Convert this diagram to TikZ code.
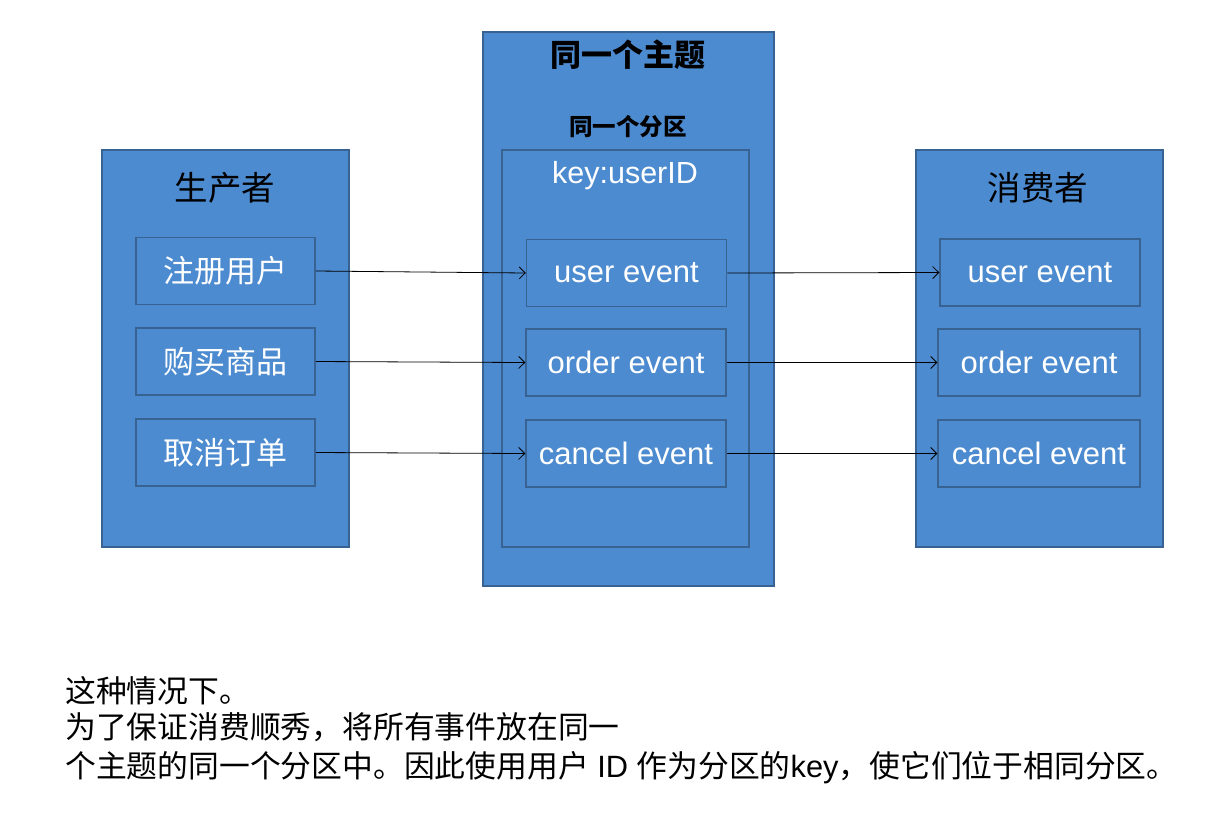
\documentclass[tikz,border=0pt]{standalone}
\usepackage{fontspec}
\setmainfont{Liberation Sans}
\newfontfamily\cjk{Noto Sans CJK SC}
\usetikzlibrary{arrows.meta}
\definecolor{boxfill}{RGB}{76,139,207}
\definecolor{boxline}{RGB}{55,98,146}
\tikzset{
  panel/.style={draw=boxline, fill=boxfill, line width=1.5pt, minimum width=#1, inner sep=0pt},
  item/.style={draw=boxline, fill=boxfill, line width=1.5pt, minimum height=67pt, inner sep=0pt, text=white, font=\fontsize{31}{36}\selectfont},
  lbl/.style={inner sep=0pt, text=black},
  flow/.style={draw=black, line width=0.8pt, -{Straight Barb[length=6pt,width=12pt,line width=0.8pt]}},
  note/.style={inner sep=0pt, anchor=west, font=\fontsize{30.8}{36}\selectfont}
}
\begin{document}
\begin{tikzpicture}[x=1pt,y=-1pt]
\path[use as bounding box, fill=white] (0,0) rectangle (1230,817);
% panels
\node[panel=247pt, minimum height=397pt] (prod) at (225.5,348.5) {};
\node[panel=291pt, minimum height=554pt] (topic) at (628.5,309) {};
\node[panel=247pt, minimum height=397pt] (part) at (625.5,348.5) {};
\node[panel=247pt, minimum height=397pt] (cons) at (1039.5,348.5) {};
% titles
\node[lbl, font=\cjk\fontsize{33.5}{38}\selectfont] (prodt) at (225,188) {生产者};
\node[lbl, font=\cjk\fontsize{33.5}{38}\selectfont] (const) at (1038,188) {消费者};
\node[lbl, font=\cjk\bfseries\fontsize{31}{36}\selectfont] (topict) at (628,55) {同一个主题};
\node[lbl, font=\cjk\bfseries\fontsize{23.5}{28}\selectfont] (partt) at (628,127) {同一个分区};
\node[lbl, text=white, font=\fontsize{30.5}{35}\selectfont] (key) at (625,176) {key:userID};
% producer items
\node[item, minimum width=179pt] (p1) at (225.5,271) {\cjk 注册用户};
\node[item, minimum width=179pt] (p2) at (225.5,361.5) {\cjk 购买商品};
\node[item, minimum width=179pt] (p3) at (225.5,452.5) {\cjk 取消订单};
% partition items
\node[item, minimum width=200pt] (e1) at (626.5,273) {user event};
\node[item, minimum width=200pt] (e2) at (626,362.5) {order event};
\node[item, minimum width=200pt] (e3) at (626,453.5) {cancel event};
% consumer items
\node[item, minimum width=200pt] (c1) at (1040,272.5) {user event};
\node[item, minimum width=202pt] (c2) at (1039,362.5) {order event};
\node[item, minimum width=202pt] (c3) at (1039,453.5) {cancel event};
% arrows
\draw[flow] (p1.east) -- (e1.west);
\draw[flow] (p2.east) -- (e2.west);
\draw[flow] (p3.east) -- (e3.west);
\draw[flow] (e1.east) -- (c1.west);
\draw[flow] (e2.east) -- (c2.west);
\draw[flow] (e3.east) -- (c3.west);
% notes
\node[note] (n1) at (65,691) {\cjk 这种情况下。};
\node[note] (n2) at (65,727) {\cjk 为了保证消费顺秀，将所有事件放在同一};
\node[note] (n3) at (65,768) {{\cjk 个主题的同一个分区中。因此使用用户}\ ID\ {\cjk 作为分区的}key{\cjk ，使它们位于相同分区。}};
\end{tikzpicture}
\end{document}
